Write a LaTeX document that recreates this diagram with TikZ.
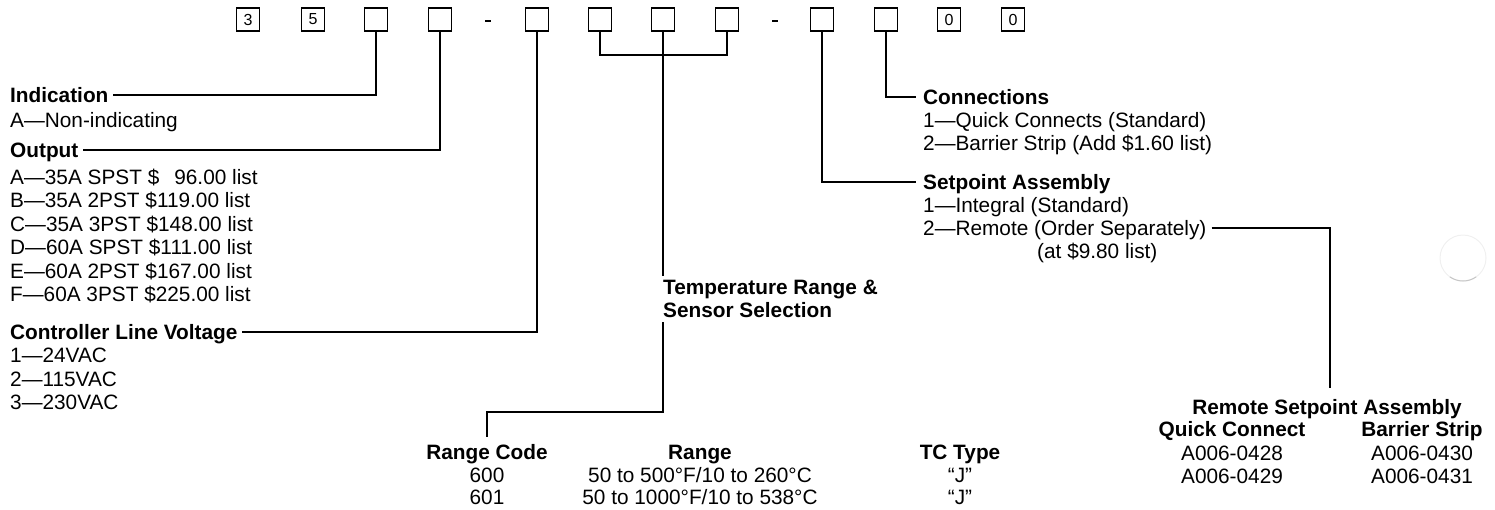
\documentclass[tikz,border=0pt]{standalone}
\usepackage{fontspec}
\setmainfont{Liberation Sans}
\begin{document}
\begin{tikzpicture}[x=1pt,y=-1pt,
  cbox/.style={draw,line width=1.3pt,minimum size=23pt,inner sep=0pt,font=\fontsize{16}{16}\selectfont},
  conn/.style={line width=1.2pt},
  txt/.style={inner sep=0pt,anchor=base west,font=\fontsize{20.8}{23}\selectfont},
  hd/.style={txt,font=\fontsize{20.8}{23}\selectfont\bfseries},
  lbl/.style={text height=14pt,text depth=0pt},
  ctxt/.style={inner sep=0pt,anchor=base,font=\fontsize{20.8}{23}\selectfont},
  chd/.style={ctxt,font=\fontsize{20.8}{23}\selectfont\bfseries},
  dashmark/.style={line width=2.5pt}
]
\useasboundingbox (0,0) rectangle (1495,509);

% top code boxes
\node[cbox] (b1) at (248,19.5) {3};
\node[cbox] (b2) at (313,19.5) {5};
\node[cbox] (b3) at (376,19.5) {};
\node[cbox] (b4) at (440,19.5) {};
\node[cbox] (b5) at (537,19.5) {};
\node[cbox] (b6) at (600,19.5) {};
\node[cbox] (b7) at (663,19.5) {};
\node[cbox] (b8) at (727,19.5) {};
\node[cbox] (b9) at (822,19.5) {};
\node[cbox] (b10) at (886,19.5) {};
\node[cbox] (b11) at (949,19.5) {0};
\node[cbox] (b12) at (1013,19.5) {0};
\draw[dashmark] (485,21) -- (491,21);
\draw[dashmark] (772,21) -- (778,21);

% left labels
\node[hd,lbl] (ind) at (10,102) {Indication};
\node[txt] (ind1) at (10,127) {A—Non-indicating};
\node[hd,lbl] (out) at (10,157) {Output};
\node[txt] (outa) at (10,184) {A—35A SPST \$\hphantom{0}\,96.00 list};
\node[txt] (outb) at (10,207.5) {B—35A 2PST \$119.00 list};
\node[txt] (outc) at (10,231) {C—35A 3PST \$148.00 list};
\node[txt] (outd) at (10,254.5) {D—60A SPST \$111.00 list};
\node[txt] (oute) at (10,278) {E—60A 2PST \$167.00 list};
\node[txt] (outf) at (10,301.5) {F—60A 3PST \$225.00 list};
\node[hd,lbl] (ctl) at (10,339) {Controller Line Voltage};
\node[txt] (ctl1) at (10,362.5) {1—24VAC};
\node[txt] (ctl2) at (10,386) {2—115VAC};
\node[txt] (ctl3) at (10,409.5) {3—230VAC};

\draw[conn] (b3.south) |- ([xshift=4pt]ind.east);
\draw[conn] (b4.south) |- ([xshift=4pt]out.east);
\draw[conn] (b5.south) |- ([xshift=4pt]ctl.east);

% temperature range
\coordinate (tj) at (663,55);
\draw[conn] (b6.south) |- (tj) -| (b8.south);
\node[hd,lbl] (temp1) at (663,294) {Temperature Range \&};
\node[hd,lbl] (temp2) at (663,317) {Sensor Selection};
\draw[conn] (b7.south) -- ([yshift=4pt]temp1.north west);
\coordinate (tb) at (663,412);
\coordinate (rctop) at (487,437);
\draw[conn] ([yshift=-5pt]temp2.south west) -- (tb) -| (rctop);

% bottom table
\node[chd] (rc) at (487,459) {Range Code};
\node[ctxt] (rc1) at (487,482) {600};
\node[ctxt] (rc2) at (487,504) {601};
\node[chd] (rg) at (700,459) {Range};
\node[ctxt] (rg1) at (700,482) {50 to 500°F/10 to 260°C};
\node[ctxt] (rg2) at (700,504) {50 to 1000°F/10 to 538°C};
\node[chd] (tc) at (960,459) {TC Type};
\node[ctxt] (tc1) at (960,482) {``J''};
\node[ctxt] (tc2) at (960,504) {``J''};

% right labels
\node[hd,lbl] (con) at (923,104) {Connections};
\node[txt] (con1) at (923,127) {1—Quick Connects (Standard)};
\node[txt] (con2) at (923,150) {2—Barrier Strip (Add \$1.60 list)};
\node[hd,lbl] (set) at (923,189) {Setpoint Assembly};
\node[txt] (set1) at (923,212) {1—Integral (Standard)};
\node[txt,lbl] (rem) at (923,235) {2—Remote (Order Separately)};
\node[txt] (set3) at (1037,258) {(at \$9.80 list)};

\draw[conn] (b10.south) |- ([xshift=-7pt]con.west);
\draw[conn] (b9.south) |- ([xshift=-7pt]set.west);

\coordinate (rsatop) at (1330,388);
\draw[conn] ([xshift=5pt]rem.east) -| (rsatop);

\node[chd] (rsa) at (1327,414) {Remote Setpoint Assembly};
\node[chd] (qc) at (1232,436) {Quick Connect};
\node[chd] (bs) at (1422,436) {Barrier Strip};
\node[ctxt] (qc1) at (1232,460) {A006-0428};
\node[ctxt] (qc2) at (1232,483) {A006-0429};
\node[ctxt] (bs1) at (1422,460) {A006-0430};
\node[ctxt] (bs2) at (1422,483) {A006-0431};

% faint punch-hole shadow
\draw[gray!12,line width=1pt] (1463,258) circle[radius=23];
\draw[gray!45,line width=1pt] (1463,258) ++(55:23) arc[start angle=55,end angle=125,radius=23];
\end{tikzpicture}
\end{document}
